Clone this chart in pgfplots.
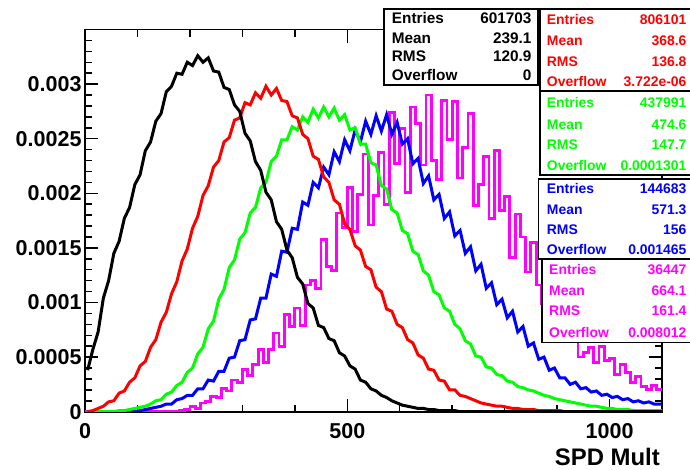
\documentclass[border=0pt]{standalone}
\usepackage{fontspec}
\setmainfont{Liberation Sans}
\usepackage{pgfplots}
\usepackage{pgfplotstable}
\pgfplotsset{compat=1.18}
\definecolor{rkred}{RGB}{255,0,0}
\definecolor{rkgreen}{RGB}{0,255,0}
\definecolor{rkblue}{RGB}{0,0,255}
\definecolor{rkmag}{RGB}{255,0,255}
\newcommand\statfont{\fontsize{14}{16}\selectfont\bfseries}
\newcommand\bstatfont{\fontsize{15.4}{18}\selectfont\bfseries}
\newcommand\srow[6]{%
  \node[anchor=west,inner sep=0pt,text=#1,font=\statfont] at (#3bp,#2bp) {#5};
  \node[anchor=east,inner sep=0pt,text=#1,font=\statfont] at (#4bp,#2bp) {#6};}
\newcommand\brow[5]{%
  \node[anchor=west,inner sep=0pt,font=\bstatfont] at (#2bp,#1bp) {#4};
  \node[anchor=east,inner sep=0pt,font=\bstatfont] at (#3bp,#1bp) {#5};}
% values in units of 1e-5
\pgfplotstableread{
x k r g b m
0 38 0 0 0 0
10 57 1 0 0 0
20 73 3 0 0 0
30 104 5 0 0 0
40 120 9 0 0 0
50 145 10 0 0 0
60 156 17 1 0 0
70 177 19 1 0 0
80 187 27 2 0 0
90 208 31 3 0 0
100 217 42 4 1 0
110 239 46 5 2 0
120 247 59 7 3 0
130 266 66 10 4 0
140 273 82 11 5 0
150 293 91 16 7 0
160 298 108 18 7 0
170 310 119 24 11 0
180 309 138 27 12 1
190 320 149 36 15 2
200 317 168 40 15 5
210 326 179 53 21 3
220 320 198 59 21 8
230 324 207 76 29 9
240 312 224 83 28 14
250 311 230 103 37 13
260 297 247 112 37 21
270 295 251 132 49 19
280 281 267 139 50 29
290 275 269 158 65 27
300 255 283 164 66 39
310 248 281 182 84 33
320 229 292 187 85 43
330 221 287 205 104 57
340 201 298 210 104 45
350 194 290 229 126 57
360 174 296 234 124 72
370 167 285 249 147 60
380 148 284 249 146 89
390 141 271 261 168 78
400 123 269 258 167 95
410 117 254 270 192 79
420 99 250 265 189 116
430 95 234 277 210 120
440 79 231 269 205 113
450 77 215 279 224 158
460 67 210 270 217 133
470 65 194 278 238 129
480 54 190 267 229 182
490 51 172 272 249 169
500 42 167 258 239 205
510 39 152 260 258 165
520 29 148 245 247 199
530 27 133 245 266 236
540 21 130 228 254 171
550 19 114 226 271 198
560 15 110 207 257 237
570 13 94 204 272 190
580 10 92 185 254 274
590 8 80 182 265 227
600 6 77 166 245 259
610 5 66 163 250 201
620 4 63 147 227 279
630 3 52 144 232 264
640 3 49 129 209 226
650 2 39 125 216 290
660 2 38 110 194 230
670 1 29 107 199 213
680 1 28 95 177 285
690 1 20 92 183 249
700 1 20 80 161 284
710 0 15 76 166 214
720 0 14 65 145 242
730 0 12 62 151 273
740 0 10 51 129 189
750 0 8 50 135 208
760 0 7 41 113 234
770 0 6 40 118 177
780 0 5 34 98 239
790 0 5 33 103 184
800 0 4 28 86 197
810 0 3 27 92 141
820 0 3 23 73 181
830 0 2 22 78 160
840 0 2 20 60 128
850 0 2 19 63 155
860 0 1 17 48 116
870 0 1 15 50 99
880 0 1 14 38 121
890 0 1 12 40 97
900 0 1 11 31 101
910 0 0 10 31 70
920 0 0 9 25 73
930 0 0 8 27 77
940 0 0 7 21 50
950 0 0 6 22 54
960 0 0 5 18 59
970 0 0 5 19 45
980 0 0 4 15 60
990 0 0 3 16 47
1000 0 0 3 13 49
1010 0 0 2 14 34
1020 0 0 2 11 43
1030 0 0 2 12 36
1040 0 0 1 9 27
1050 0 0 1 10 32
1060 0 0 1 8 23
1070 0 0 1 9 20
1080 0 0 1 7 24
1090 0 0 1 7 20
1100 0 0 1 7 20
}\hist
\begin{document}
\begin{tikzpicture}
\useasboundingbox (0,0) rectangle (690bp,470bp);
\begin{axis}[
  at={(85bp,58.3bp)}, anchor=south west,
  scale only axis, width=577bp, height=382.2bp,
  xmin=0, xmax=1100, ymin=0, ymax=350,
  xtick={0,500,1000}, xticklabels={0,500,1000},
  minor xtick={0,100,...,1100},
  ytick={0,50,...,300},
  yticklabels={0,0.0005,0.001,0.0015,0.002,0.0025,0.003},
  minor ytick={0,10,...,350},
  tick align=inside,
  major tick length=13bp, minor tick length=7bp,
  axis line style={line width=1.8bp},
  every tick/.style={black, line width=1.5bp},
  tick label style={font=\fontsize{21.6}{24}\selectfont\bfseries},
  xticklabel style={inner sep=0pt, yshift=-11.6bp},
  yticklabel style={inner sep=0pt, xshift=-3.3bp},
  no marks,
]
\addplot[const plot, line width=2.8bp, color=rkmag] table[x=x,y=m]{\hist};
\addplot[sharp plot, line width=3bp, color=rkblue] table[x expr=\thisrow{x}+5,y=b]{\hist};
\addplot[sharp plot, line width=3bp, color=rkgreen] table[x expr=\thisrow{x}+5,y=g]{\hist};
\addplot[sharp plot, line width=3bp, color=rkred] table[x expr=\thisrow{x}+5,y=r]{\hist};
\addplot[sharp plot, line width=3bp, color=black] table[x expr=\thisrow{x}+5,y=k]{\hist};
\end{axis}
\node[anchor=base east,inner sep=0pt,font=\fontsize{24}{28}\selectfont\bfseries] at (660bp,5bp) {SPD Mult};
% stat boxes
\draw[line width=1.6bp, fill=white] (384bp,385bp) rectangle (538bp,460.7bp);
\brow{451.7}{391.7}{531.7}{Entries}{601703}
\brow{432}{391.7}{531.7}{Mean}{239.1}
\brow{413.3}{391.7}{531.7}{RMS}{120.9}
\brow{395}{391.7}{531.7}{Overflow}{0}
\draw[line width=1.6bp, fill=white] (540bp,379bp) rectangle (694bp,460.7bp);
\srow{rkred}{450}{546.7}{686.7}{Entries}{806101}
\srow{rkred}{429.3}{546.7}{686.7}{Mean}{368.6}
\srow{rkred}{408.3}{546.7}{686.7}{RMS}{136.8}
\srow{rkred}{388.3}{546.7}{686.7}{Overflow}{3.722e-06}
\draw[line width=1.6bp, fill=white] (540bp,295bp) rectangle (694bp,379bp);
\srow{rkgreen}{367.3}{546.7}{686.7}{Entries}{437991}
\srow{rkgreen}{345.7}{546.7}{686.7}{Mean}{474.6}
\srow{rkgreen}{325.7}{546.7}{686.7}{RMS}{147.7}
\srow{rkgreen}{304.3}{546.7}{686.7}{Overflow}{0.0001301}
\draw[line width=1.6bp, fill=white] (538.3bp,210.7bp) rectangle (694bp,290.7bp);
\srow{rkblue}{281.7}{546.7}{686.7}{Entries}{144683}
\srow{rkblue}{260.7}{546.7}{686.7}{Mean}{571.3}
\srow{rkblue}{240.7}{546.7}{686.7}{RMS}{156}
\srow{rkblue}{220.7}{546.7}{686.7}{Overflow}{0.001465}
\draw[line width=1.6bp, fill=white] (541.7bp,127.3bp) rectangle (694bp,210.7bp);
\srow{rkmag}{200.7}{549}{686.7}{Entries}{36447}
\srow{rkmag}{179}{549}{686.7}{Mean}{664.1}
\srow{rkmag}{159}{549}{686.7}{RMS}{161.4}
\srow{rkmag}{137.3}{549}{686.7}{Overflow}{0.008012}
\end{tikzpicture}
\end{document}
